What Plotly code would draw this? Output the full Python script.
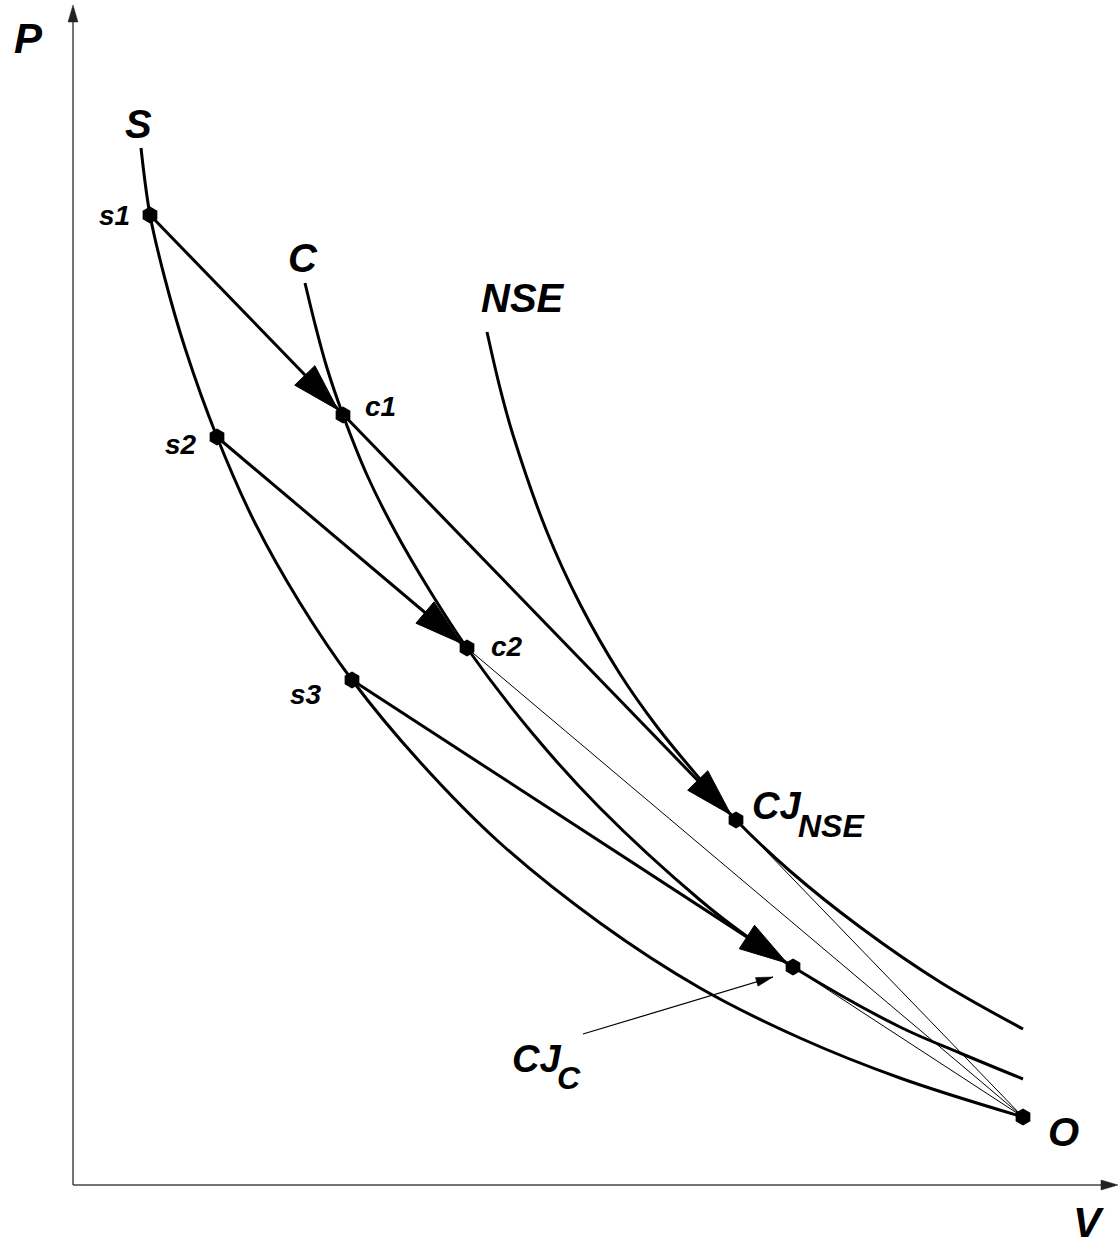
import plotly.graph_objects as go

# ---------------- data (V, P in arbitrary units) ----------------
S_V = [0.68, 0.77, 0.92, 1.12, 1.44, 1.82, 2.27, 2.79, 3.47, 4.27, 5.27, 6.27,
       7.27, 8.27, 9.50]
S_P = [10.37, 9.70, 9.06, 8.37, 7.48, 6.62, 5.82, 5.05, 4.23, 3.42, 2.62, 1.97,
       1.47, 1.07, 0.68]

C_V = [2.32, 2.43, 2.54, 2.70, 2.94, 3.22, 3.57, 3.94, 4.60, 5.27, 6.27, 6.72,
       7.20, 8.27, 8.87, 9.50]
C_P = [9.02, 8.57, 8.17, 7.70, 7.10, 6.54, 5.94, 5.37, 4.51, 3.77, 2.85, 2.50,
       2.18, 1.58, 1.32, 1.06]

NSE_V = [4.14, 4.27, 4.40, 4.74, 5.07, 5.47, 5.85, 6.27, 6.63, 7.17, 7.87,
         8.67, 9.50]
NSE_P = [8.53, 7.97, 7.50, 6.53, 5.81, 5.11, 4.57, 4.06, 3.65, 3.14, 2.58,
         2.03, 1.56]

STATE_NAMES = ["s1", "s2", "s3", "c1", "c2", "CJ_NSE", "CJ_C", "O"]
STATE_V = [0.77, 1.44, 2.79, 2.70, 3.94, 6.63, 7.20, 9.50]
STATE_P = [9.70, 7.48, 5.05, 7.70, 5.37, 3.65, 2.18, 0.68]

RAYLEIGH_THICK = [("s1", "CJ_NSE"), ("s2", "c2"), ("s3", "CJ_C")]
RAYLEIGH_THIN = [("c2", "O"), ("CJ_NSE", "O"), ("CJ_C", "O")]
ARROWS = [("s1", "c1"), ("s1", "CJ_NSE"), ("s2", "c2"), ("s3", "CJ_C")]

CURVE_LABELS = ["S", "C", "NSE"]

# ---------------- helpers ----------------
PX = 0.01  # data units per pixel (100 px per unit on both axes)
pt = {n: (v, p) for n, v, p in zip(STATE_NAMES, STATE_V, STATE_P)}


def triangle(start, end, length, half_w, back=0.0):
    dx, dy = end[0] - start[0], end[1] - start[1]
    L = (dx * dx + dy * dy) ** 0.5
    ux, uy = dx / L, dy / L
    nx, ny = -uy, ux
    tx, ty = end[0] - ux * back, end[1] - uy * back
    bx, by = tx - ux * length, ty - uy * length
    xs = [tx, bx + nx * half_w, bx - nx * half_w, tx]
    ys = [ty, by + ny * half_w, by - ny * half_w, ty]
    return xs, ys


fig = go.Figure()

# axes
x_min = -0.73
y_min = -0.60
fig.add_trace(go.Scatter(x=[0, 0], y=[0, 11.63], mode="lines",
                         line=dict(color="#444", width=1.5), hoverinfo="skip"))
fig.add_trace(go.Scatter(x=[0, 10.38], y=[0, 0], mode="lines",
                         line=dict(color="#444", width=1.5), hoverinfo="skip"))
for s, e in [((0, 0), (0, 11.80)), ((0, 0), (10.45, 0))]:
    xs, ys = triangle(s, e, 17 * PX, 5 * PX)
    fig.add_trace(go.Scatter(x=xs, y=ys, mode="lines", fill="toself",
                             fillcolor="#222", line=dict(color="#222", width=0.5),
                             hoverinfo="skip"))

# curves
for vx, py in [(S_V, S_P), (C_V, C_P), (NSE_V, NSE_P)]:
    fig.add_trace(go.Scatter(x=vx, y=py, mode="lines", line_shape="spline",
                             line=dict(color="black", width=3), hoverinfo="skip"))

# thin rays to O
for a, b in RAYLEIGH_THIN:
    fig.add_trace(go.Scatter(x=[pt[a][0], pt[b][0]], y=[pt[a][1], pt[b][1]],
                             mode="lines", line=dict(color="black", width=1),
                             hoverinfo="skip"))
# thick Rayleigh lines
for a, b in RAYLEIGH_THICK:
    fig.add_trace(go.Scatter(x=[pt[a][0], pt[b][0]], y=[pt[a][1], pt[b][1]],
                             mode="lines", line=dict(color="black", width=3),
                             hoverinfo="skip"))
# arrowheads
for a, b in ARROWS:
    xs, ys = triangle(pt[a], pt[b], 48 * PX, 14 * PX, back=7 * PX)
    fig.add_trace(go.Scatter(x=xs, y=ys, mode="lines", fill="toself",
                             fillcolor="black", line=dict(color="black", width=1),
                             hoverinfo="skip"))

# state markers
fig.add_trace(go.Scatter(x=STATE_V, y=STATE_P, mode="markers",
                         marker=dict(symbol="hexagon", size=17, color="black"),
                         hoverinfo="skip"))

# CJ_C pointer
tail = (pt["CJ_C"][0] - 210 * PX, pt["CJ_C"][1] - 67 * PX)
tip = (pt["CJ_C"][0] - 20 * PX, pt["CJ_C"][1] - 10 * PX)
fig.add_trace(go.Scatter(x=[tail[0], tip[0]], y=[tail[1], tip[1]], mode="lines",
                         line=dict(color="black", width=1.2), hoverinfo="skip"))
xs, ys = triangle(tail, tip, 17 * PX, 4.5 * PX)
fig.add_trace(go.Scatter(x=xs, y=ys, mode="lines", fill="toself", fillcolor="black",
                         line=dict(color="black", width=0.5), hoverinfo="skip"))

FONT = "Liberation Sans, Arial, sans-serif"


def label(text, x, y, size, dx=0, dy=0):
    fig.add_annotation(x=x, y=y, text=text, showarrow=False, xshift=dx, yshift=dy,
                       xanchor="center", yanchor="middle",
                       font=dict(family=FONT, size=size, color="black",
                                 weight="bold", style="italic"))


# axis labels
label("P", 0, 11.5, 42, dx=-45, dy=-3)
label("V", 10.0, 0, 42, dx=15, dy=-37)

# curve labels
label(CURVE_LABELS[0], S_V[0], S_P[0], 40, dx=-3, dy=24)
label(CURVE_LABELS[1], C_V[0], C_P[0], 40, dx=-2, dy=25)
label(CURVE_LABELS[2], NSE_V[0], NSE_P[0], 40, dx=36, dy=34)

# state labels
label("s1", *pt["s1"], 28, dx=-36, dy=0)
label("s2", *pt["s2"], 28, dx=-36, dy=-7)
label("s3", *pt["s3"], 28, dx=-46, dy=-14)
label("c1", *pt["c1"], 28, dx=37, dy=9)
label("c2", *pt["c2"], 28, dx=40, dy=2)
label("O", *pt["O"], 40, dx=40, dy=-15)
label("CJ", *pt["CJ_NSE"], 38, dx=40, dy=14)
label("NSE", *pt["CJ_NSE"], 32, dx=95, dy=-6)
label("CJ", *tail, 38, dx=-47, dy=-25)
label("C", *tail, 32, dx=-14, dy=-44)

fig.update_layout(
    width=1119, height=1245,
    margin=dict(l=0, r=0, t=0, b=0),
    paper_bgcolor="white", plot_bgcolor="white",
    showlegend=False,
    xaxis=dict(range=[x_min, x_min + 11.19], visible=False, fixedrange=True),
    yaxis=dict(range=[y_min, y_min + 12.45], visible=False, fixedrange=True),
)

fig.write_html("out.html", config={"displayModeBar": False},
               post_script="document.body.style.margin='0';document.body.style.overflow='hidden';")
